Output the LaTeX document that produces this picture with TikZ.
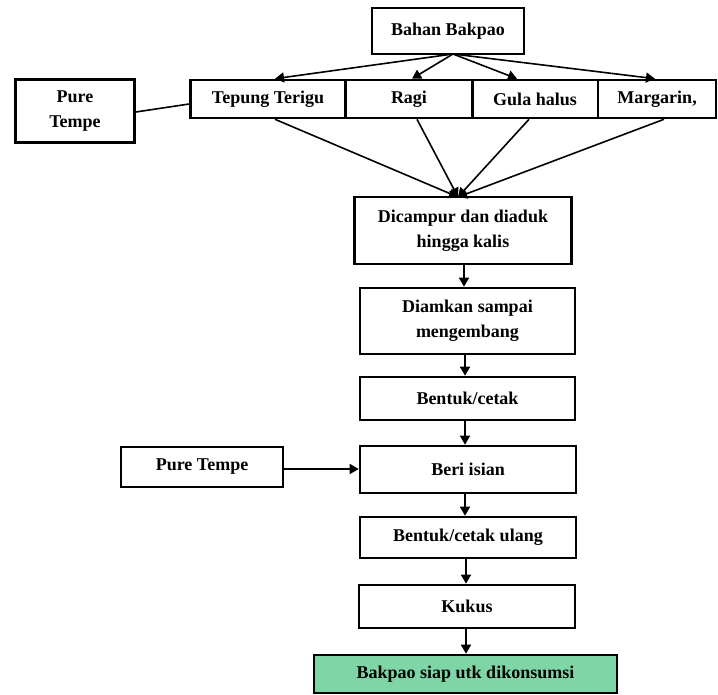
\documentclass[tikz,border=0pt]{standalone}
\usepackage{fontspec}
\setmainfont{Liberation Serif}
\usetikzlibrary{arrows.meta}
\begin{document}
\begin{tikzpicture}[x=1pt,y=-1pt,
  box/.style={draw, line width=2.6pt, inner sep=0pt, align=center,
    font=\fontsize{18}{25}\selectfont\bfseries},
  arr/.style={line width=1.6pt, -{Triangle[length=9pt,width=10pt]}},
  ln/.style={line width=1.6pt}]
\useasboundingbox (0,0) rectangle (718,695);
% top
\node[box, minimum width=152, minimum height=46] (bahan) at (448,31) {Bahan Bakpao};
\node[box, minimum width=155, minimum height=38] (tep) at (268,99) {Tepung Terigu};
\node[box, minimum width=127, minimum height=38] (ragi) at (409,99) {Ragi};
\node[box, minimum width=126, minimum height=38] (gula) at (535,99) {Gula halus};
\node[box, minimum width=118, minimum height=38] (marg) at (657,99) {Margarin,};
\node[box, minimum width=119, minimum height=63] (pt1) at (75,111) {Pure\\Tempe};
% chain
\node[box, minimum width=217, minimum height=67] (camp) at (463,230.5) {Dicampur dan diaduk\\hingga kalis};
\node[box, minimum width=215, minimum height=66] (diam) at (467.5,321) {Diamkan sampai\\mengembang};
\node[box, minimum width=215, minimum height=43] (bent) at (467.5,398.5) {Bentuk/cetak};
\node[box, minimum width=216, minimum height=47] (beri) at (468,469.5) {Beri isian};
\node[box, minimum width=216, minimum height=41] (bentu) at (468,537.5) {Bentuk/cetak ulang};
\node[box, minimum width=216, minimum height=43] (kukus) at (467,606.5) {Kukus};
\node[box, minimum width=303, minimum height=38, fill={rgb,255:red,126;green,214;blue,166}] (siap) at (465.5,674) {Bakpao siap utk dikonsumsi};
\node[box, minimum width=162, minimum height=40] (pt2) at (202,467) {Pure Tempe};
% Bahan -> row
\coordinate (bs) at (453,54);
\draw[arr] (bs) -- (tep.north -| 275,0);
\draw[arr] (bs) -- (ragi.north -| 412,0);
\draw[arr] (bs) -- (gula.north -| 517,0);
\draw[arr] (bs) -- (marg.north -| 655,0);
% row -> Dicampur
\coordinate (ct) at (458,197);
\draw[arr] (tep.south -| 275,0) -- (ct);
\draw[arr] (ragi.south -| 417,0) -- (ct);
\draw[arr] (gula.south -| 529,0) -- (ct);
\draw[arr] (marg.south -| 664,0) -- (ct);
% Pure tempe top link
\draw[ln] (pt1.east |- 0,112) -- (tep.west |- 0,104);
% chain arrows
\draw[arr] (camp.south -| 464,0) -- (diam.north -| 464,0);
\draw[arr] (diam.south -| 465,0) -- (bent.north -| 465,0);
\draw[arr] (bent.south -| 465,0) -- (beri.north -| 465,0);
\draw[arr] (beri.south -| 465,0) -- (bentu.north -| 465,0);
\draw[arr] (bentu.south -| 466,0) -- (kukus.north -| 466,0);
\draw[arr] (kukus.south -| 466,0) -- (siap.north -| 466,0);
\draw[arr] (pt2.east |- 0,469) -- (beri.west |- 0,469);
\end{tikzpicture}
\end{document}
